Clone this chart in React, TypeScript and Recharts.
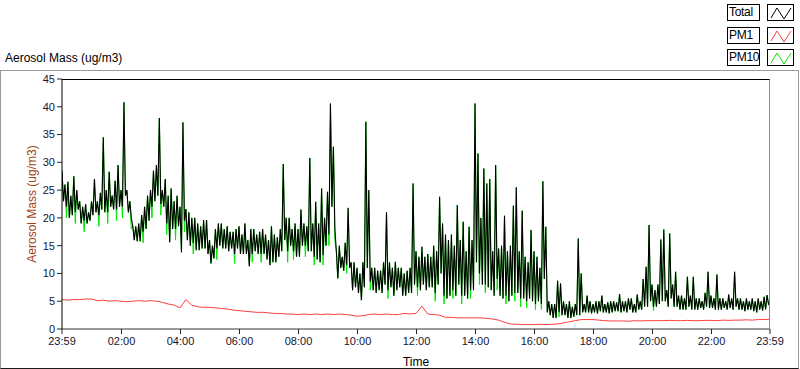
import React from 'react';
import { LineChart, Line, XAxis, YAxis, Legend } from 'recharts';

const FONT = '"Liberation Sans", Arial, sans-serif';

// one sample every 3 minutes, starting at 23:59
const SAMPLE_MIN = 3;
// PM1 is smooth, read every 12 minutes
const PM1_SAMPLE_MIN = 12;

const totalMass = [
  28.5, 23, 26, 22, 26.5, 20, 24, 20.5, 27.5, 21, 25, 21.5, 23, 19, 22, 19.5, 22.5, 19, 21, 19.5,
  23, 20.5, 27, 21, 23, 20.5, 24.5, 21.5, 34.5, 21, 25, 21, 28.3, 22, 24, 21.5, 26.7, 21.5, 29.5, 22,
  25, 22, 40.8, 24, 25, 21, 23, 20, 18.5, 16, 18.5, 15.8, 19, 15.8, 20.5, 17.5, 22, 18, 24, 19.5,
  25, 22, 28.5, 23, 29.5, 24, 38, 22.5, 25, 22, 27, 19, 24, 15.6, 25.3, 18, 23, 18, 24, 18.5,
  22, 13.8, 37.2, 19.5, 21.6, 16, 21, 15, 20, 15.5, 20, 14.2, 19, 14.2, 18.5, 14.5, 19.6, 14.5, 19.6, 13.5,
  16, 11.8, 15, 12.7, 18, 14.5, 19, 15, 19, 14.5, 18, 14.5, 18.5, 14, 17.5, 14.5, 17.5, 13.5, 18, 14.5,
  18.5, 13.5, 17, 13.5, 19, 13.5, 16, 11.3, 18, 13.5, 18, 14, 17, 13.5, 17.5, 13.5, 18, 13.5, 17, 12.5,
  16, 11.5, 18.5, 12, 17, 12, 16.5, 13, 18, 14, 29.7, 16, 20, 14, 20, 15, 18, 14, 19, 13,
  18, 13, 21.5, 15, 19, 15, 18.5, 14, 30.8, 14, 19, 13, 22.9, 12.5, 19, 12, 25.3, 13.3, 20, 15,
  24.7, 17, 40.6, 22, 32.8, 18, 14, 9.1, 15, 11, 13, 10.5, 15.5, 11.5, 21.8, 11, 12, 7, 12, 7.5,
  11, 6.5, 10, 5.2, 12, 7.5, 37.3, 11, 25, 8.5, 11, 7, 11, 6.5, 10.5, 7, 10.5, 6.5, 12, 8,
  21, 7, 12, 7.5, 11, 6, 12.1, 7, 11, 7.5, 11, 6, 10, 6, 10.5, 6.5, 11, 6.5, 26.2, 8,
  14, 7.5, 13, 7, 14.8, 8, 13, 7, 13.5, 7.5, 13, 7.5, 15, 6.5, 14, 8, 23.8, 10, 19, 6,
  17, 5.5, 16, 6, 17, 7, 15, 6, 22.3, 8, 16, 6, 19.3, 6, 14, 5.5, 18.4, 7, 16, 7,
  40.6, 12, 31.6, 10, 20, 8, 28.9, 8, 26.2, 7.5, 27, 7, 14, 6, 29.5, 9, 14.5, 6, 15, 5.5,
  20.4, 6, 14, 5, 15, 6, 22.2, 6.5, 25.5, 6.5, 14, 5.5, 21.3, 5.5, 13, 5, 12, 5.5, 17.8, 5,
  14, 4.5, 13, 5, 11, 4.5, 26.6, 9, 18.4, 3, 5, 2.5, 4.5, 2, 4.5, 2, 8.7, 3, 8.2, 2.5,
  5, 2.5, 4.5, 2, 5, 2, 4, 2.2, 4.5, 2.5, 16.3, 2.5, 10, 3, 4.5, 3, 6, 3, 5, 2.8,
  4.5, 3, 5, 2.8, 5, 3.2, 6, 3, 4.5, 3, 4.8, 2.8, 5, 3, 5, 3.2, 4.8, 3.2, 6.3, 3,
  5, 3.2, 5, 3, 5.5, 3.5, 5.5, 3, 4.5, 3, 6.2, 3.5, 5, 3.5, 9, 4, 11.2, 4, 18.7, 5,
  8, 4, 7, 4, 8, 4.5, 16.1, 5, 17.9, 5, 7, 4, 17.2, 5.5, 8, 4, 10.3, 4, 6, 3.5,
  6, 3.5, 5.5, 3.5, 9.4, 4, 6, 3.5, 9.4, 3.5, 5.5, 3.5, 5.5, 3.8, 5, 3.5, 6.5, 4, 10.3, 3.8,
  6, 3.8, 5.5, 3.5, 9.8, 3.5, 5.5, 3.5, 5.5, 3.8, 5, 3.5, 6.2, 3.8, 5.5, 3.5, 10.3, 4, 5.5, 3.5,
  5.5, 3.5, 5, 3.2, 5.5, 3.5, 5, 3.5, 5.5, 3.2, 5, 3, 5.5, 3.5, 5, 3.3, 5.8, 3.5, 6.1, 4.5,
  5,
];

const pm10Mass = [
  28.5, 23, 26, 20, 26.5, 20, 24, 20.5, 27.5, 19, 25, 21.5, 23, 19, 22, 17.5, 22.5, 19, 21, 19.5,
  23, 20.5, 27, 21, 23, 18.5, 24.5, 21.5, 34.5, 21, 25, 19, 28.3, 22, 24, 21.5, 26.7, 19.5, 29.5, 22,
  25, 20, 40.8, 24, 25, 21, 23, 18, 18.5, 16, 18.5, 15.8, 19, 15.8, 20.5, 15.5, 22, 18, 24, 19.5,
  25, 20, 28.5, 23, 29.5, 24, 38, 20.5, 25, 22, 27, 17, 24, 15.6, 25.3, 18, 23, 16, 24, 18.5,
  22, 13.8, 37.2, 17.5, 21.6, 16, 21, 15, 20, 13.5, 20, 14.2, 19, 14.2, 18.5, 14.5, 19.6, 14.5, 19.6, 13.5,
  16, 11.8, 15, 12.7, 18, 12.5, 19, 15, 19, 14.5, 18, 14.5, 18.5, 14, 17.5, 14.5, 17.5, 11.8, 18, 14.5,
  18.5, 13.5, 17, 13.5, 19, 13.5, 16, 11.3, 18, 12, 18, 14, 17, 13.5, 17.5, 12, 18, 13.5, 17, 12.5,
  16, 11.5, 18.5, 12, 17, 12, 16.5, 13, 18, 14, 29.7, 16, 20, 12, 20, 15, 18, 12.5, 19, 13,
  18, 13, 21.5, 15, 19, 13, 18.5, 14, 30.8, 14, 19, 11.5, 22.9, 12.5, 19, 12, 25.3, 11.5, 20, 15,
  24.7, 15, 40.6, 22, 32.8, 16, 14, 9.1, 15, 11, 13, 10.5, 15.5, 10, 21.8, 11, 12, 7, 12, 7.5,
  11, 6.5, 10, 5.2, 12, 7.5, 37.3, 11, 25, 7, 11, 7, 11, 6.5, 10.5, 7, 10.5, 6.5, 12, 8,
  21, 5.5, 12, 7.5, 11, 6, 12.1, 7, 11, 7.5, 11, 6, 10, 6, 10.5, 6.5, 11, 6.5, 26.2, 8,
  14, 6, 13, 7, 14.8, 8, 13, 7, 13.5, 7.5, 13, 7.5, 15, 5, 14, 8, 23.8, 10, 19, 4.5,
  17, 5.5, 16, 6, 17, 5.5, 15, 6, 22.3, 8, 16, 4.5, 19.3, 6, 14, 5.5, 18.4, 5.5, 16, 7,
  40.6, 12, 31.6, 8, 20, 8, 28.9, 6.5, 26.2, 7.5, 27, 7, 14, 6, 29.5, 7, 14.5, 6, 15, 5.5,
  20.4, 4.5, 14, 5, 15, 6, 22.2, 5, 25.5, 6.5, 14, 4, 21.3, 5.5, 13, 3.8, 12, 5.5, 17.8, 5,
  14, 3.5, 13, 5, 11, 3.5, 26.6, 9, 18.4, 3, 5, 2.5, 4.5, 2, 4.5, 2, 8.7, 2.2, 8.2, 2.5,
  5, 2.5, 4.5, 2, 5, 2, 4, 2.2, 4.5, 2.5, 16.3, 2.5, 10, 3, 4.5, 3, 6, 3, 5, 2.8,
  4.5, 3, 5, 2.8, 5, 3.2, 6, 3, 4.5, 3, 4.8, 2.8, 5, 3, 5, 3.2, 4.8, 3.2, 6.3, 3,
  5, 3.2, 5, 3, 5.5, 3.5, 5.5, 3, 4.5, 3, 6.2, 3.5, 5, 3.5, 9, 4, 11.2, 4, 18.7, 5,
  8, 3.3, 7, 4, 8, 4.5, 16.1, 5, 17.9, 5, 7, 4, 17.2, 5.5, 8, 4, 10.3, 4, 6, 3.5,
  6, 3.5, 5.5, 3.5, 9.4, 4, 6, 3.5, 9.4, 3.5, 5.5, 3.5, 5.5, 3.8, 5, 3.5, 6.5, 4, 10.3, 3.8,
  6, 3.8, 5.5, 3.5, 9.8, 3.5, 5.5, 3.5, 5.5, 3.8, 5, 3.5, 6.2, 3.8, 5.5, 3.5, 10.3, 4, 5.5, 3.5,
  5.5, 3.5, 5, 3.2, 5.5, 3.5, 5, 3.5, 5.5, 3.2, 5, 3, 5.5, 3.5, 5, 3.3, 5.8, 3.5, 6.1, 4.5,
  5,
];

const pm1Mass = [
  5.3, 5.2, 5.3, 5.3, 5.4, 5.4, 5.1, 5.2, 5.0, 5.1,
  5.0, 4.9, 5.0, 5.1, 5.0, 5.1, 5.0, 4.8, 4.5, 4.3,
  3.8, 5.3, 4.3, 4.0, 3.9, 3.9, 3.8, 3.7, 3.6, 3.4,
  3.3, 3.2, 3.1, 3.0, 3.0, 2.9, 2.8, 2.8, 2.7, 2.7,
  2.6, 2.7, 2.6, 2.7, 2.6, 2.7, 2.6, 2.7, 2.6, 2.5,
  2.3, 2.4, 2.6, 2.7, 2.6, 2.7, 2.6, 2.6, 2.8, 2.7,
  2.8, 4.1, 2.7, 2.6, 2.5, 2.1, 2.1, 2.0, 2.0, 2.0,
  2.0, 2.0, 1.9, 1.8, 1.6, 1.2, 0.9, 0.85, 0.8, 0.8,
  0.8, 0.85, 0.8, 0.85, 0.9, 1.1, 1.3, 1.5, 1.7, 1.7,
  1.7, 1.6, 1.5, 1.45, 1.45, 1.45, 1.4, 1.5, 1.45, 1.5,
  1.5, 1.5, 1.5, 1.55, 1.5, 1.5, 1.55, 1.5, 1.5, 1.55,
  1.55, 1.5, 1.6, 1.55, 1.6, 1.6, 1.65, 1.6, 1.7, 1.7,
  1.75,
];

const majorTicks = [0, 121, 241, 361, 481, 601, 721, 841, 961, 1081, 1201, 1321, 1440];
const majorLabels = ['23:59', '02:00', '04:00', '06:00', '08:00', '10:00', '12:00', '14:00', '16:00', '18:00', '20:00', '22:00', '23:59'];
const minorTicks = Array.from({ length: 96 }, (_, k) => 1 + k * 15);
const yTicks = [0, 5, 10, 15, 20, 25, 30, 35, 40, 45];

const series = [
  { name: 'Total', color: '#000000' },
  { name: 'PM1', color: '#ff3d3d' },
  { name: 'PM10', color: '#00e600' },
];

const mainData = totalMass.map((v, i) => ({ t: i * SAMPLE_MIN, total: v, pm10: pm10Mass[i] }));
const pm1Data = pm1Mass.map((v, i) => ({ t: i * PM1_SAMPLE_MIN, pm1: v }));

const LegendBoxes = () => (
  <div style={{ position: 'relative', width: 74, height: 69, background: '#fff' }}>
    {series.map((s, i) => (
      <React.Fragment key={s.name}>
        <div
          style={{
            position: 'absolute', left: 1, top: 4 + i * 22.5, width: 33, height: 17,
            border: '1px solid #000', boxSizing: 'border-box', fontSize: 12,
            lineHeight: '15px', paddingLeft: 1, color: '#000', fontFamily: FONT,
            letterSpacing: -0.3, whiteSpace: 'nowrap',
          }}
        >
          {s.name}
        </div>
        <svg
          width={27} height={17}
          style={{ position: 'absolute', left: 41, top: 4 + i * 22.5, border: '1px solid #000', boxSizing: 'border-box' }}
        >
          <polyline points="3,13 9,3 16,14 23,3" fill="none" stroke={s.color} strokeWidth={1} />
        </svg>
      </React.Fragment>
    ))}
  </div>
);

export default function App() {
  const tickStyle = { fontSize: 11, fill: '#141432', fontFamily: FONT };
  return (
    <div style={{ position: 'absolute', left: 0, top: 0, width: 800, height: 369, background: '#fff', overflow: 'hidden', fontFamily: FONT }}>
      <div
        style={{
          position: 'absolute', left: 0, top: 70, width: 799, height: 299, boxSizing: 'border-box',
          borderLeft: '1px solid #9a9a9a', borderTop: '1px solid #9a9a9a', borderRight: '1px solid #9a9a9a',
          borderBottom: '1px solid #1a1a1a',
        }}
      />
      <div style={{ position: 'absolute', left: 5, top: 51, fontSize: 12, color: '#000' }}>Aerosol Mass (ug/m3)</div>
      <LineChart
        width={800}
        height={369}
        data={mainData}
        margin={{ top: 79, right: 30, bottom: 0, left: 0 }}
        style={{ fontFamily: FONT }}
      >
        <XAxis
          xAxisId="minor"
          type="number"
          dataKey="t"
          domain={[0, 1440]}
          ticks={minorTicks}
          tick={false}
          tickSize={3}
          axisLine={false}
          tickLine={{ stroke: '#222' }}
          height={0}
          allowDataOverflow
        />
        <XAxis
          xAxisId="major"
          type="number"
          dataKey="t"
          domain={[0, 1440]}
          ticks={majorTicks}
          tickFormatter={(v: number) => majorLabels[majorTicks.indexOf(v)] ?? ''}
          tick={tickStyle}
          tickSize={5}
          tickMargin={3}
          axisLine={{ stroke: '#333' }}
          tickLine={{ stroke: '#222' }}
          height={40}
          interval={0}
          allowDataOverflow
          label={{ value: 'Time', position: 'insideBottom', offset: 3, style: { fontSize: 12, fill: '#000', fontFamily: FONT } }}
        />
        <YAxis
          type="number"
          domain={[0, 45]}
          ticks={yTicks}
          tick={tickStyle}
          tickSize={5}
          tickMargin={2}
          width={62}
          interval={0}
          axisLine={{ stroke: '#000' }}
          tickLine={{ stroke: '#222' }}
          allowDataOverflow
          label={{
            value: 'Aerosol Mass (ug/m3)', angle: -90, position: 'insideLeft', offset: 32,
            style: { textAnchor: 'middle', fontSize: 12, fill: '#a0461a', fontFamily: FONT },
          }}
        />
        <Legend
          layout="horizontal"
          verticalAlign="middle"
          align="center"
          content={() => <LegendBoxes />}
          wrapperStyle={{ position: 'absolute', left: 726, top: 0, width: 74, height: 69 }}
        />
        <Line xAxisId="major" type="linear" dataKey="pm10" name="PM10" stroke={series[2].color} strokeWidth={1} dot={false} isAnimationActive={false} />
        <Line xAxisId="major" type="linear" data={pm1Data} dataKey="pm1" name="PM1" stroke={series[1].color} strokeWidth={1} dot={false} isAnimationActive={false} />
        <Line xAxisId="major" type="linear" dataKey="total" name="Total" stroke={series[0].color} strokeWidth={1.1} dot={false} isAnimationActive={false} />
      </LineChart>
      <div
        style={{
          position: 'absolute', left: 62, top: 79, width: 708, height: 250, boxSizing: 'border-box',
          borderTop: '1px solid #000', borderRight: '1px solid #8a8a8a', pointerEvents: 'none',
        }}
      />
    </div>
  );
}
